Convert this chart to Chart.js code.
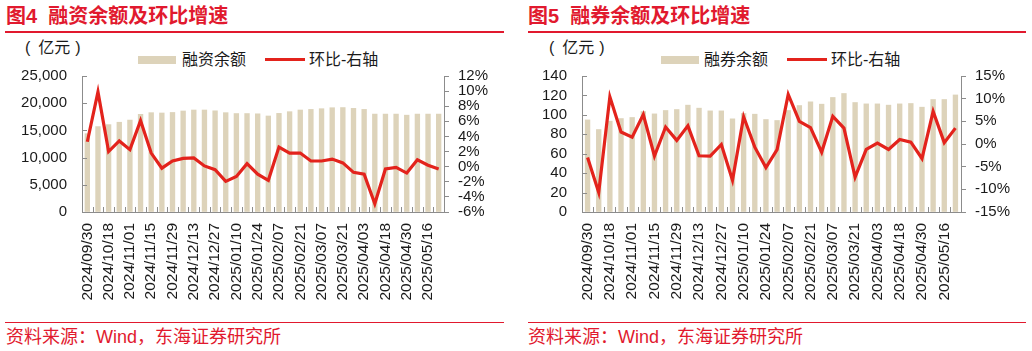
<!DOCTYPE html>
<html>
<head>
<meta charset="utf-8">
<script src="https://cdn.jsdelivr.net/npm/chart.js@4.4.1/dist/chart.umd.min.js"></script>
<style>
  body { margin: 0; width: 1032px; height: 351px; background: #fff; position: relative; overflow: hidden;
         font-family: "Liberation Sans", "Noto Sans CJK SC", sans-serif; }
  .abs { position: absolute; white-space: nowrap; }
  .title { font-size: 20px; font-weight: bold; color: #e1192e; top: 4px; line-height: 24px; }
  .rule { height: 2px; background: #e1192e; }
  .unit { font-size: 16px; color: #1a1a1a; top: 38px; line-height: 20px; }
  .unit .u { margin: 0 5px 0 8px; }
  .leg { font-size: 16px; color: #1a1a1a; top: 50px; line-height: 20px; }
  .swBar { height: 8px; top: 56px; background: #ddd3ba; }
  .swLine { height: 3px; top: 58px; background: #e3231c; }
  .src { font-size: 18px; color: #e1192e; top: 325px; line-height: 24px; }
  .box { position: absolute; top: 52px; width: 516px; height: 264px; }
</style>
</head>
<body>
  <div class="abs title" style="left:6px">图4&nbsp;&nbsp;融资余额及环比增速</div>
  <div class="abs rule" style="left:5px;width:499px;top:31px"></div>
  <div class="abs unit" style="left:25px">(<span class="u">亿元</span>)</div>
  <div class="abs swBar" style="left:138px;width:38px"></div>
  <div class="abs leg" style="left:182px">融资余额</div>
  <div class="abs swLine" style="left:265px;width:40px"></div>
  <div class="abs leg" style="left:309px">环比-右轴</div>
  <div class="box" style="left:0"><canvas id="finChart" width="516" height="264"></canvas></div>
  <div class="abs rule" style="left:5px;width:499px;top:321.5px;height:1.5px"></div>
  <div class="abs src" style="left:6px">资料来源：Wind，东海证券研究所</div>

  <div class="abs title" style="left:528px">图5&nbsp;&nbsp;融券余额及环比增速</div>
  <div class="abs rule" style="left:528px;width:498px;top:31px"></div>
  <div class="abs unit" style="left:549px">(<span class="u">亿元</span>)</div>
  <div class="abs swBar" style="left:661px;width:38px"></div>
  <div class="abs leg" style="left:704px">融券余额</div>
  <div class="abs swLine" style="left:787px;width:40px"></div>
  <div class="abs leg" style="left:831px">环比-右轴</div>
  <div class="box" style="left:516px"><canvas id="lendChart" width="516" height="264"></canvas></div>
  <div class="abs rule" style="left:528px;width:498px;top:321.5px;height:1.5px"></div>
  <div class="abs src" style="left:528px">资料来源：Wind，东海证券研究所</div>

<script>
const dates = ['2024/09/30', '2024/10/11', '2024/10/18', '2024/10/25', '2024/11/01', '2024/11/08',
  '2024/11/15', '2024/11/22', '2024/11/29', '2024/12/06', '2024/12/13', '2024/12/20', '2024/12/27',
  '2025/01/03', '2025/01/10', '2025/01/17', '2025/01/24', '2025/01/27', '2025/02/07', '2025/02/14',
  '2025/02/21', '2025/02/28', '2025/03/07', '2025/03/14', '2025/03/21', '2025/03/28', '2025/04/03',
  '2025/04/11', '2025/04/18', '2025/04/25', '2025/04/30', '2025/05/09', '2025/05/16', '2025/05/23'];

// 融资余额（亿元）
const financing = [14400, 15700, 16060, 16500, 16900, 17950, 18260, 18200, 18300, 18570, 18750, 18750,
  18600, 18260, 18100, 18100, 18050, 17650, 18130, 18440, 18750, 18860, 18990, 19170, 19200, 19050,
  18860, 18000, 18000, 18000, 17800, 18000, 18000, 18000];
// 融资余额环比（%）
const financingChg = [3.3, 9.9, 2.0, 3.4, 2.25, 6.1, 1.8, -0.2, 0.75, 1.1, 1.15, 0.1, -0.4, -1.95,
  -1.3, 0.4, -1.0, -1.8, 2.6, 1.8, 1.8, 0.75, 0.75, 1.0, 0.5, -0.75, -1.0, -4.9, -0.3, -0.1, -0.85,
  0.9, 0.2, -0.3];

// 融券余额（亿元）
const lending = [94.8, 84.9, 93.5, 96.2, 97.3, 103.4, 101.0, 104.5, 105.5, 110.0, 106.9, 104.1, 104.1,
  95.9, 101.4, 100.7, 95.2, 94.2, 104.5, 109.6, 113.4, 111.0, 117.9, 122.0, 112.7, 111.3, 111.3, 110.0,
  111.3, 111.7, 107.9, 115.8, 115.8, 120.5];
// 融券余额环比（%）
const lendingChg = [-3.0, -10.7, 10.4, 2.65, 1.5, 6.5, -2.65, 3.75, 0.8, 4.0, -2.6, -2.65, -0.1, -8.0,
  6.0, -0.7, -5.2, -1.25, 10.95, 5.0, 3.6, -1.8, 6.1, 3.5, -7.3, -1.2, 0.2, -1.2, 1.0, 0.4, -3.2, 7.2,
  0.3, 3.5];

const red = '#e3231c';
const beige = '#ddd3ba';
const axisGray = '#8c8c8c';
const textColor = '#1a1a1a';
const tickFont = { family: '"Liberation Sans", Arial, sans-serif', size: 15 };
const dateFont = { family: '"Liberation Sans", Arial, sans-serif', size: 15.5 };

// ticks that point into the plot (x axis and left axis)
const innerTicks = {
  id: 'innerTicks',
  afterDraw(chart) {
    const { ctx, chartArea: a, scales: { x, y } } = chart;
    const half = (x.getPixelForValue(1) - x.getPixelForValue(0)) / 2;
    ctx.save();
    ctx.strokeStyle = axisGray;
    ctx.lineWidth = 1;
    ctx.beginPath();
    for (let i = 1; i < dates.length; i++) {
      const px = Math.round(x.getPixelForValue(i) - half) + 0.5;
      ctx.moveTo(px, a.bottom);
      ctx.lineTo(px, a.bottom - 5);
    }
    y.ticks.forEach(t => {
      const py = Math.round(y.getPixelForValue(t.value)) + 0.5;
      ctx.moveTo(a.left, py);
      ctx.lineTo(a.left + 5, py);
    });
    ctx.stroke();
    ctx.restore();
  }
};

function makeChart(id, bars, barName, chg, leftAxis, rightAxis, leftW, rightW) {
  new Chart(document.getElementById(id), {
    data: {
      labels: dates,
      datasets: [{
        type: 'line',
        label: '环比-右轴',
        data: chg,
        yAxisID: 'y1',
        borderColor: red,
        borderWidth: 3.2,
        pointRadius: 0,
        tension: 0,
        order: 0
      }, {
        type: 'bar',
        label: barName,
        data: bars,
        yAxisID: 'y',
        backgroundColor: beige,
        barThickness: 4.7,
        order: 1
      }]
    },
    options: {
      responsive: false,
      animation: false,
      layout: { padding: 0 },
      plugins: { legend: { display: false }, tooltip: { enabled: false } },
      scales: {
        x: {
          grid: { display: true, drawOnChartArea: false, drawTicks: false, color: axisGray },
          border: { color: axisGray },
          ticks: {
            autoSkip: false, minRotation: 90, maxRotation: 90, padding: 11,
            font: dateFont, color: textColor,
            callback: (v, i) => (i % 2 === 0 ? dates[i] : '')
          },
          afterFit: s => { s.height = 104; }
        },
        y: {
          position: 'left',
          min: leftAxis.min, max: leftAxis.max,
          grid: { display: true, drawOnChartArea: false, drawTicks: false, color: axisGray },
          border: { color: axisGray },
          ticks: { stepSize: leftAxis.step, autoSkip: false, padding: 15, font: tickFont, color: textColor,
                   callback: leftAxis.fmt },
          afterFit: s => { s.width = leftW; }
        },
        y1: {
          position: 'right',
          min: rightAxis.min, max: rightAxis.max,
          grid: { display: true, drawOnChartArea: false, drawTicks: true, tickLength: 5, color: axisGray },
          border: { color: axisGray },
          ticks: { stepSize: rightAxis.step, autoSkip: false, padding: 9, font: tickFont, color: textColor,
                   callback: v => v + '%' },
          afterFit: s => { s.width = rightW; }
        }
      }
    },
    plugins: [innerTicks]
  });
}

makeChart('finChart', financing, '融资余额', financingChg,
  { min: 0, max: 25000, step: 5000, fmt: v => v.toLocaleString('en-US') },
  { min: -6, max: 12, step: 2 }, 82, 72);

makeChart('lendChart', lending, '融券余额', lendingChg,
  { min: 0, max: 140, step: 20, fmt: v => v },
  { min: -15, max: 15, step: 5 }, 66, 71);
</script>
</body>
</html>
